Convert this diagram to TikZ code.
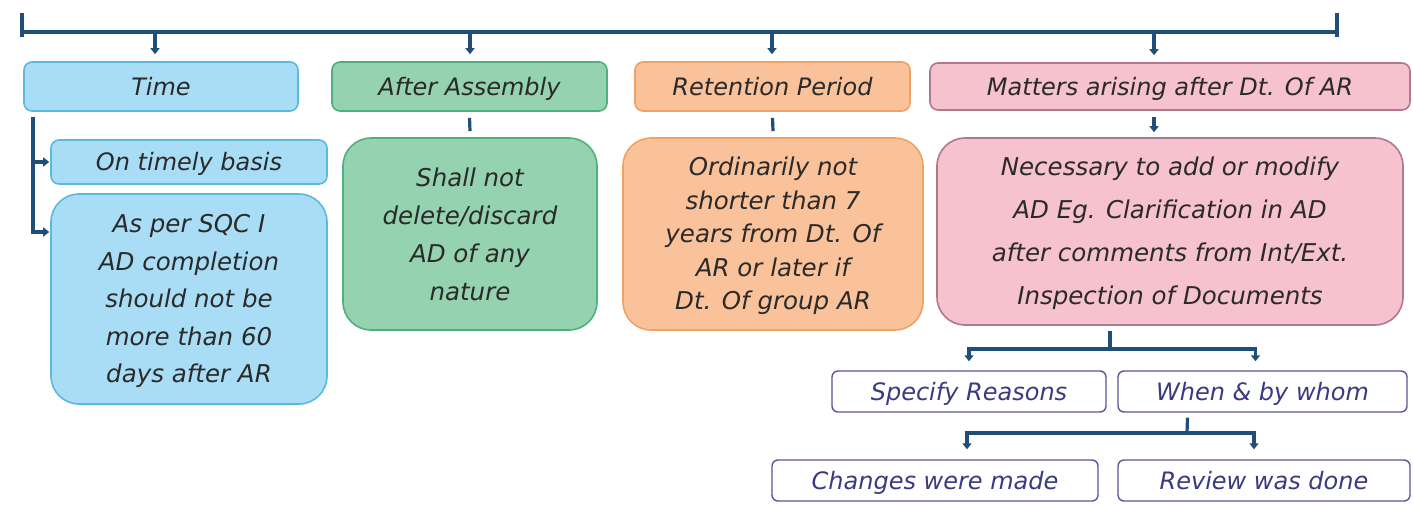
\documentclass[tikz,border=0pt]{standalone}
\usepackage{fontspec}
\setmainfont{DejaVu Sans}
\usetikzlibrary{arrows.meta}

\definecolor{linkblue}{HTML}{1F4E79}
\definecolor{textgrey}{HTML}{2A2A2A}
\definecolor{bluefill}{HTML}{A9DDF5}
\definecolor{blueline}{HTML}{5BB8E0}
\definecolor{greenfill}{HTML}{95D2AF}
\definecolor{greenline}{HTML}{4FB07F}
\definecolor{orangefill}{HTML}{F9C29A}
\definecolor{orangeline}{HTML}{EFA264}
\definecolor{pinkfill}{HTML}{F6C2CD}
\definecolor{pinkline}{HTML}{B0788F}
\definecolor{navytext}{HTML}{3A3A82}
\definecolor{navyline}{HTML}{56569A}

% balanced strut so every line sits centred in its box
\newcommand\bal{\rule[-0.16em]{0pt}{1.1em}}

\begin{document}
\begin{tikzpicture}[x=1pt,y=-1pt,
  box/.style={draw, line width=1.6pt, rounded corners=8pt, align=center,
    inner sep=0pt, text=textgrey, font=\itshape\fontsize{24}{30}\selectfont},
  bigbox/.style={box, rounded corners=28pt},
  bluebox/.style={fill=bluefill, draw=blueline},
  greenbox/.style={fill=greenfill, draw=greenline},
  orangebox/.style={fill=orangefill, draw=orangeline},
  pinkbox/.style={fill=pinkfill, draw=pinkline},
  whitebox/.style={box, fill=white, draw=navyline, line width=1.4pt,
    rounded corners=6pt, text=navytext},
  link/.style={draw=linkblue, line width=3.2pt},
  arr/.style={link, -{Triangle[width=9pt,length=6pt]}},
]
\useasboundingbox (0,0) rectangle (1413,504);

% top distribution bar
\coordinate (barL) at (22,32);
\coordinate (barR) at (1337,32);
\draw[link] (barL) -- (barR);
\draw[link] ([yshift=19pt]barL) -- ([yshift=-5pt]barL);
\draw[link] ([yshift=19pt]barR) -- ([yshift=-5pt]barR);

% header row
\node[box, bluebox, minimum width=274pt, minimum height=49pt] (time) at (161,86.5) {\bal Time};
\node[box, greenbox, minimum width=275pt, minimum height=49pt] (assembly) at (469.5,86.5) {\bal After Assembly};
\node[box, orangebox, minimum width=275pt, minimum height=49pt] (retention) at (772.5,86.5) {\bal Retention Period};
\node[box, pinkbox, minimum width=480pt, minimum height=47pt] (matters) at (1170,86.5) {\bal Matters arising after Dt. Of AR};

% drops from the bar
\coordinate (d1) at (155,32);
\coordinate (d2) at (470,32);
\coordinate (d3) at (772,32);
\coordinate (d4) at (1154,32);
\draw[arr, shorten >=7pt] (d1) -- (d1 |- time.north);
\draw[arr, shorten >=7pt] (d2) -- (d2 |- assembly.north);
\draw[arr, shorten >=7pt] (d3) -- (d3 |- retention.north);
\draw[arr, shorten >=7pt] (d4) -- (d4 |- matters.north);

% body row
\node[box, bluebox, rounded corners=8pt, minimum width=276pt, minimum height=44pt] (ontime) at (189,162) {\bal On timely basis};
\node[bigbox, bluebox, minimum width=276pt, minimum height=210pt,
  font=\itshape\fontsize{24.5}{37.5}\selectfont] (sqc) at (189,299)
  {\bal As per SQC I\\\bal AD completion\\\bal should not be\\\bal more than 60\\\bal days after AR};
\node[bigbox, greenbox, minimum width=254pt, minimum height=192pt,
  font=\itshape\fontsize{24.5}{38}\selectfont] (shall) at (470,234)
  {\bal Shall not\\\bal delete/discard\\\bal AD of any\\\bal nature};
\node[bigbox, orangebox, minimum width=300pt, minimum height=192pt,
  font=\itshape\fontsize{24.5}{33.5}\selectfont] (ordin) at (773,234)
  {\bal Ordinarily not\\\bal shorter than 7\\\bal years from Dt. Of\\\bal AR or later if\\\bal Dt. Of group AR};
\node[bigbox, pinkbox, minimum width=466pt, minimum height=187pt,
  font=\itshape\fontsize{24.5}{43}\selectfont] (necess) at (1170,231.5)
  {\bal Necessary to add or modify\\\bal AD Eg. Clarification in AD\\\bal after comments from Int/Ext.\\\bal Inspection of Documents};

% Time branch
\coordinate (tTop) at (33,117);
\draw[arr, shorten >=1pt] (tTop) |- (ontime.west);
\draw[arr, shorten >=1pt] (tTop) |- ([yshift=67pt]sqc.west);

% header to body links
\draw[link] ([yshift=-6pt]assembly.south) -- ([yshift=6pt]shall.north);
\draw[link] ([yshift=-6pt]retention.south) -- ([yshift=6pt]ordin.north);
\draw[arr] ([xshift=-16pt,yshift=-6pt]matters.south) -- ([xshift=-16pt,yshift=5pt]necess.north);

% lower chain
\node[whitebox, minimum width=274pt, minimum height=41pt] (specify) at (969,391.5) {\bal Specify Reasons};
\node[whitebox, minimum width=289pt, minimum height=41pt] (when) at (1262.5,391.5) {\bal When \& by whom};
\node[whitebox, minimum width=326pt, minimum height=41pt] (changes) at (935,480.5) {\bal Changes were made};
\node[whitebox, minimum width=292pt, minimum height=41pt] (review) at (1264,480.5) {\bal Review was done};

\coordinate (s1) at (1110,349);
\draw[link] ([xshift=-60pt,yshift=-5pt]necess.south) -- (s1);
\draw[arr, shorten >=9pt] (s1) -| (specify.north);
\draw[arr, shorten >=9pt] (s1) -| ([xshift=-7pt]when.north);

\coordinate (s2) at (1187,433);
\draw[link] ([xshift=-75pt,yshift=-5pt]when.south) -- (s2);
\draw[arr, shorten >=10pt] (s2) -| ([xshift=32pt]changes.north);
\draw[arr, shorten >=10pt] (s2) -| ([xshift=-10pt]review.north);
\end{tikzpicture}
\end{document}
